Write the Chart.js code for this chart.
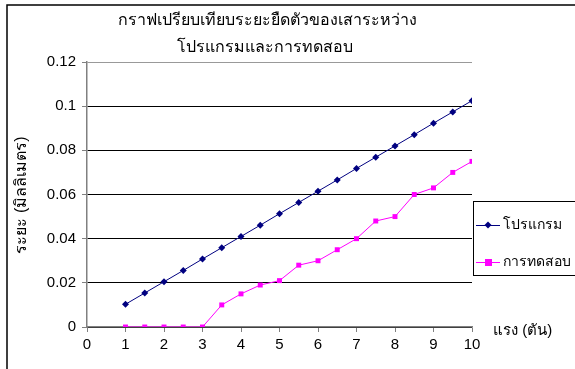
<!DOCTYPE html>
<html>
<head>
<meta charset="utf-8">
<script src="https://cdn.jsdelivr.net/npm/chart.js@4"></script>
<style>
  body { margin: 0; background: #fff; }
  canvas { display: block; }
</style>
</head>
<body>
<canvas id="chart" width="575" height="369"></canvas>
<script>
// แรง (ตัน)
const forces = [1, 1.5, 2, 2.5, 3, 3.5, 4, 4.5, 5, 5.5, 6, 6.5, 7, 7.5, 8, 8.5, 9, 9.5, 10];
// ระยะยืดตัว จากโปรแกรม
const programValues = [0.0103, 0.0154, 0.0205, 0.0256, 0.0308, 0.0359, 0.0410, 0.0461, 0.0513, 0.0564,
  0.0615, 0.0666, 0.0718, 0.0769, 0.0820, 0.0871, 0.0923, 0.0974, 0.1025];
// ระยะยืดตัว จากการทดสอบ
const testValues = [0, 0, 0, 0, 0, 0.010, 0.015, 0.019, 0.021, 0.028,
  0.030, 0.035, 0.040, 0.048, 0.050, 0.060, 0.063, 0.070, 0.075];

const seriesLabels = ["โปรแกรม", "การทดสอบ"];
const titleLines = ["กราฟเปรียบเทียบระยะยืดตัวของเสาระหว่าง", "โปรแกรมและการทดสอบ"];
const yTitle = "ระยะ (มิลลิเมตร)";
const xTitle = "แรง (ตัน)";

const FONT = 'Arial, "Liberation Sans", "Noto Sans", sans-serif';

const toPoints = (vals) => vals.map((v, i) => ({ x: forces[i], y: v }));

// ข้อความ กรอบ และ legend วาดเอง
const decorations = {
  id: "decorations",
  afterDraw(chart) {
    const { ctx } = chart;
    ctx.save();
    // กรอบนอก
    ctx.strokeStyle = "#000";
    ctx.lineWidth = 1.5;
    ctx.beginPath();
    ctx.moveTo(7, 369);
    ctx.lineTo(7, 5);
    ctx.lineTo(575, 5);
    ctx.stroke();

    ctx.fillStyle = "#000";
    ctx.font = "16px " + FONT;
    ctx.textAlign = "center";
    ctx.textBaseline = "middle";
    ctx.fillText(titleLines[0], 267, 21);
    ctx.fillText(titleLines[1], 265, 48);

    ctx.font = "16px " + FONT;
    ctx.save();
    ctx.translate(22, 195);
    ctx.rotate(-Math.PI / 2);
    ctx.fillText(yTitle, 0, 0);
    ctx.restore();

    ctx.font = "15px " + FONT;
    ctx.textAlign = "left";
    ctx.fillText(xTitle, 493, 331);

    // legend
    const lx = 473, ly = 201;
    ctx.lineWidth = 1;
    ctx.strokeStyle = "#000";
    ctx.strokeRect(lx + 0.5, ly + 0.5, 120, 74);
    ctx.font = "14px " + FONT;
    const rows = [225, 262];
    chart.data.datasets.forEach((ds, i) => {
      const y = rows[i];
      ctx.strokeStyle = ds.borderColor;
      ctx.beginPath();
      ctx.moveTo(476, y + 0.5);
      ctx.lineTo(500, y + 0.5);
      ctx.stroke();
      ctx.fillStyle = ds.backgroundColor;
      ctx.beginPath();
      if (ds.pointStyle === "rect") {
        ctx.rect(485, y - 3, 7, 7);
      } else {
        ctx.moveTo(488, y - 3.5);
        ctx.lineTo(491.5, y);
        ctx.lineTo(488, y + 3.5);
        ctx.lineTo(484.5, y);
        ctx.closePath();
      }
      ctx.fill();
      ctx.fillStyle = "#000";
      ctx.fillText(ds.label, 503, y);
    });
    ctx.restore();
  },
};

new Chart(document.getElementById("chart"), {
  type: "line",
  data: {
    datasets: [
      {
        label: seriesLabels[0],
        data: toPoints(programValues),
        borderColor: "#000080",
        backgroundColor: "#000080",
        borderWidth: 1,
        pointStyle: "rectRot",
        pointRadius: 3.5,
        pointBorderWidth: 0,
      },
      {
        label: seriesLabels[1],
        data: toPoints(testValues),
        borderColor: "#FF00FF",
        backgroundColor: "#FF00FF",
        borderWidth: 1,
        pointStyle: "rect",
        pointRadius: 3.5,
        pointBorderWidth: 0,
      },
    ],
  },
  options: {
    responsive: false,
    animation: false,
    events: [],
    layout: { padding: { left: 0, top: 62, right: 103, bottom: 0 } },
    plugins: { legend: { display: false }, title: { display: false }, tooltip: { enabled: false } },
    scales: {
      x: {
        type: "linear",
        min: 0,
        max: 10,
        ticks: { stepSize: 1, color: "#000", font: { family: FONT, size: 15 }, padding: 4, maxRotation: 0 },
        grid: { drawOnChartArea: false, tickLength: 5, tickColor: "#808080", color: "#808080" },
        border: { color: "#808080", width: 1.5 },
        afterFit: (s) => { s.height = 42; },
      },
      y: {
        min: 0,
        max: 0.12,
        ticks: {
          stepSize: 0.02,
          color: "#000",
          font: { family: FONT, size: 15 },
          padding: 6,
          callback: (v) => String(Math.round(v * 100) / 100),
        },
        grid: {
          tickLength: 5,
          tickColor: "#808080",
          color: (c) => (c.tick && c.tick.value >= 0.12 ? "#999" : "#000"),
        },
        border: { color: "#808080", width: 1.5 },
        afterFit: (s) => { s.width = 87; },
      },
    },
  },
  plugins: [decorations],
});
</script>
</body>
</html>
